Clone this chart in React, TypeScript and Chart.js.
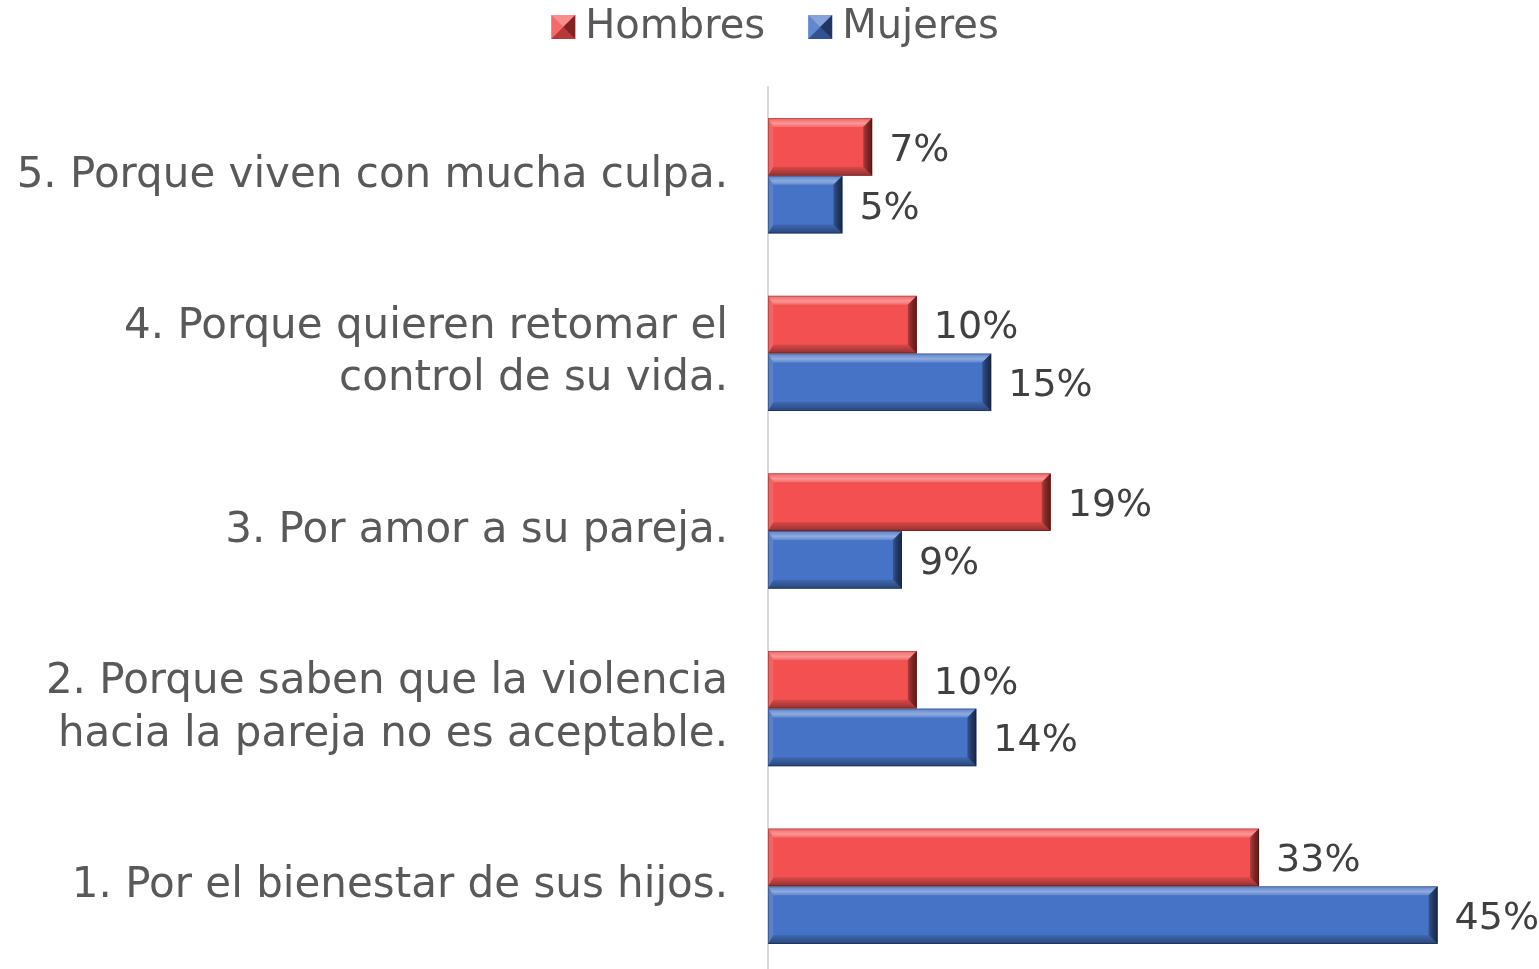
import React, { useEffect, useRef } from "react";
import { Chart, registerables } from "chart.js";

Chart.register(...registerables);

const categories: string[][] = [
  ["5. Porque viven con mucha culpa."],
  ["4. Porque quieren retomar el", "control de su vida."],
  ["3. Por amor a su pareja."],
  ["2. Porque saben que la violencia", "hacia la pareja no es aceptable."],
  ["1. Por el bienestar de sus hijos."],
];
const seriesNames = ["Hombres", "Mujeres"];
const hombres = [7, 10, 19, 10, 33];
const mujeres = [5, 15, 9, 14, 45];

const FONT = "'DejaVu Sans', sans-serif";
const RED = "#F35151";
const BLUE = "#4673C6";
const RED_DARK = "#6e1a1a";
const BLUE_DARK = "#1b2b4d";

function drawLegendIcon(g: CanvasRenderingContext2D, x: number, y: number, s: number, face: string, dark: string) {
  const mx = x + s / 2;
  const my = y + s / 2;
  g.save();
  g.fillStyle = face;
  g.fillRect(x, y, s, s);
  g.fillStyle = "rgba(255,255,255,0.35)";
  g.beginPath(); g.moveTo(x, y); g.lineTo(x + s, y); g.lineTo(mx, my); g.closePath(); g.fill();
  g.fillStyle = "rgba(255,255,255,0.15)";
  g.beginPath(); g.moveTo(x, y); g.lineTo(x, y + s); g.lineTo(mx, my); g.closePath(); g.fill();
  g.fillStyle = dark;
  g.globalAlpha = 0.85;
  g.beginPath(); g.moveTo(x + s, y); g.lineTo(x + s, y + s); g.lineTo(mx, my); g.closePath(); g.fill();
  g.globalAlpha = 0.45;
  g.beginPath(); g.moveTo(x, y + s); g.lineTo(x + s, y + s); g.lineTo(mx, my); g.closePath(); g.fill();
  g.restore();
}

const legendPlugin = {
  id: "customLegend",
  afterDraw(chart: any) {
    const ctx = chart.ctx;
    ctx.save();
    ctx.font = `40px ${FONT}`;
    ctx.textBaseline = "middle";
    ctx.textAlign = "left";
    const icon = 24;
    const gapIconText = 10;
    const gapItems = 43;
    const items = chart.data.datasets.map((ds: any) => ({
      text: ds.label as string,
      w: ctx.measureText(ds.label).width,
    }));
    let total = 0;
    items.forEach((it: any, i: number) => {
      total += icon + gapIconText + it.w + (i < items.length - 1 ? gapItems : 0);
    });
    let x = 775 - total / 2;
    const cy = 27;
    items.forEach((it: any, i: number) => {
      drawLegendIcon(ctx, x, cy - icon / 2, icon, i === 0 ? RED : BLUE, i === 0 ? RED_DARK : BLUE_DARK);
      x += icon + gapIconText;
      ctx.fillStyle = "#595959";
      ctx.fillText(it.text, x, cy + 1);
      x += it.w + gapItems;
    });
    ctx.restore();
  },
};

const bevelPlugin = {
  id: "bevel",
  afterDatasetsDraw(chart: any) {
    const ctx = chart.ctx;
    chart.data.datasets.forEach((ds: any, di: number) => {
      const meta = chart.getDatasetMeta(di);
      const dark = di === 0 ? RED_DARK : BLUE_DARK;
      meta.data.forEach((bar: any) => {
        const L = Math.min(bar.base, bar.x);
        const R = Math.max(bar.base, bar.x);
        const T = bar.y - bar.height / 2;
        const B = bar.y + bar.height / 2;
        const b = 9;
        ctx.save();
        let gr = ctx.createLinearGradient(0, T, 0, T + b);
        gr.addColorStop(0, "rgba(255,255,255,0.1)");
        gr.addColorStop(0.6, "rgba(255,255,255,0.4)");
        gr.addColorStop(1, "rgba(255,255,255,0.15)");
        ctx.fillStyle = gr;
        ctx.beginPath();
        ctx.moveTo(L, T); ctx.lineTo(R, T); ctx.lineTo(R - b, T + b); ctx.lineTo(L + b * 0.6, T + b);
        ctx.closePath(); ctx.fill();
        ctx.fillStyle = "rgba(255,255,255,0.1)";
        ctx.beginPath();
        ctx.moveTo(L, T); ctx.lineTo(L + b * 0.6, T + b); ctx.lineTo(L + b * 0.6, B - b); ctx.lineTo(L, B);
        ctx.closePath(); ctx.fill();
        gr = ctx.createLinearGradient(0, B - b, 0, B);
        gr.addColorStop(0, "rgba(0,0,0,0.1)");
        gr.addColorStop(1, "rgba(0,0,0,0.4)");
        ctx.fillStyle = gr;
        ctx.beginPath();
        ctx.moveTo(L, B); ctx.lineTo(R, B); ctx.lineTo(R - b, B - b); ctx.lineTo(L + b * 0.6, B - b);
        ctx.closePath(); ctx.fill();
        gr = ctx.createLinearGradient(R - b, 0, R, 0);
        gr.addColorStop(0, "rgba(0,0,0,0.25)");
        gr.addColorStop(1, dark);
        ctx.fillStyle = gr;
        ctx.beginPath();
        ctx.moveTo(R, T); ctx.lineTo(R, B); ctx.lineTo(R - b, B - b); ctx.lineTo(R - b, T + b);
        ctx.closePath(); ctx.fill();
        ctx.strokeStyle = "rgba(0,0,0,0.25)";
        ctx.lineWidth = 1;
        ctx.strokeRect(L + 0.5, T + 0.5, R - L - 1, B - T - 1);
        ctx.restore();
      });
    });
  },
};

const valueLabelPlugin = {
  id: "valueLabels",
  afterDatasetsDraw(chart: any) {
    const ctx = chart.ctx;
    ctx.save();
    ctx.font = `38px ${FONT}`;
    ctx.fillStyle = "#404040";
    ctx.textAlign = "left";
    ctx.textBaseline = "middle";
    chart.data.datasets.forEach((ds: any, di: number) => {
      const meta = chart.getDatasetMeta(di);
      meta.data.forEach((bar: any, i: number) => {
        ctx.fillText(`${ds.data[i]}%`, bar.x + 17, bar.y + 4);
      });
    });
    ctx.restore();
  },
};

export default function App() {
  const ref = useRef<HTMLCanvasElement>(null);
  useEffect(() => {
    document.body.style.margin = "0";
    document.body.style.overflow = "hidden";
    document.documentElement.style.overflow = "hidden";
    const chart = new Chart(ref.current!, {
      type: "bar",
      data: {
        labels: categories,
        datasets: [
          { label: seriesNames[0], data: hombres, backgroundColor: RED, borderWidth: 0 },
          { label: seriesNames[1], data: mujeres, backgroundColor: BLUE, borderWidth: 0 },
        ],
      },
      options: {
        indexAxis: "y",
        animation: false,
        responsive: false,
        maintainAspectRatio: false,
        layout: { padding: { right: 27, bottom: 0, top: 87, left: 0 } },
        datasets: { bar: { barPercentage: 1, categoryPercentage: 0.65 } },
        plugins: {
          tooltip: { enabled: false },
          legend: { display: false },
        },
        scales: {
          x: {
            display: false,
            min: 0,
            max: 50,
          },
          y: {
            grid: { display: false, drawTicks: false },
            border: { display: true, color: "#d9d9d9", width: 2 },
            ticks: {
              font: { family: FONT, size: 42, lineHeight: 1.24 },
              color: "#595959",
              padding: 40,
            },
            afterFit: (scale: any) => {
              scale.width = 768;
              scale.paddingTop = 0;
              scale.paddingBottom = 0;
            },
          },
        },
      },
      plugins: [bevelPlugin, valueLabelPlugin, legendPlugin],
    });
    return () => chart.destroy();
  }, []);
  return (
    <div style={{ width: 1539, height: 969, overflow: "hidden" }}>
      <canvas ref={ref} width={1539} height={975} style={{ display: "block" }} />
    </div>
  );
}
